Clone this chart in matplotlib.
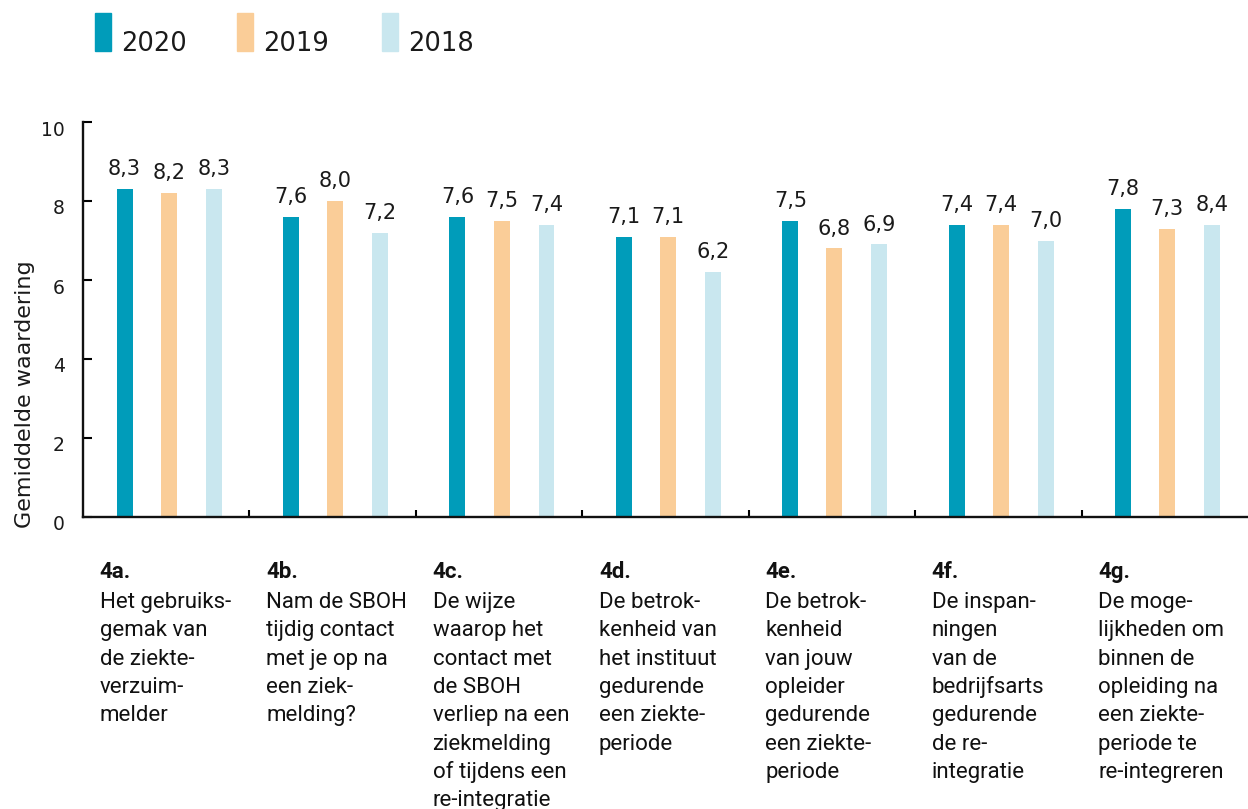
import numpy as np
import matplotlib
matplotlib.use("Agg")
from matplotlib import pyplot as plt
from matplotlib.patches import Rectangle
from matplotlib.transforms import ScaledTranslation

# data
codes = ["4a.", "4b.", "4c.", "4d.", "4e.", "4f.", "4g."]
descriptions = [
    "Het gebruiks-\ngemak van\nde ziekte-\nverzuim-\nmelder",
    "Nam de SBOH\ntijdig contact\nmet je op na\neen ziek-\nmelding?",
    "De wijze\nwaarop het\ncontact met\nde SBOH\nverliep na een\nziekmelding\nof tijdens een\nre-integratie",
    "De betrok-\nkenheid van\nhet instituut\ngedurende\neen ziekte-\nperiode",
    "De betrok-\nkenheid\nvan jouw\nopleider\ngedurende\neen ziekte-\nperiode",
    "De inspan-\nningen\nvan de\nbedrijfsarts\ngedurende\nde re-\nintegratie",
    "De moge-\nlijkheden om\nbinnen de\nopleiding na\neen ziekte-\nperiode te\nre-integreren",
]
years = ["2020", "2019", "2018"]
vals_2020 = [8.3, 7.6, 7.6, 7.1, 7.5, 7.4, 7.8]
vals_2019 = [8.2, 8.0, 7.5, 7.1, 6.8, 7.4, 7.3]
vals_2018 = [8.3, 7.2, 7.4, 6.2, 6.9, 7.0, 7.4]
# printed labels (the last 2018 label reads 8,4 in the source)
labels_2020 = ["8,3", "7,6", "7,6", "7,1", "7,5", "7,4", "7,8"]
labels_2019 = ["8,2", "8,0", "7,5", "7,1", "6,8", "7,4", "7,3"]
labels_2018 = ["8,3", "7,2", "7,4", "6,2", "6,9", "7,0", "8,4"]

colors = ["#009cba", "#facd98", "#c9e7ef"]
series = [vals_2020, vals_2019, vals_2018]
series_labels = [labels_2020, labels_2019, labels_2018]
offsets = [0.25, 0.515, 0.785]
bar_w = 0.096

fig = plt.figure(figsize=(12.48, 8.09), dpi=100)
W, H = 1248, 809
ax = fig.add_axes([83 / W, 1 - 517 / H, 1 - 83 / W, (517 - 122) / H])

x = np.arange(len(codes))
for vals, labs, off, col in zip(series, series_labels, offsets, colors):
    bars = ax.bar(x + off, vals, width=bar_w, color=col, zorder=2)
    for b, lab in zip(bars, labs):
        ax.annotate(lab, (b.get_x() + b.get_width() / 2, b.get_height()),
                    xytext=(0, 10), textcoords="offset points",
                    ha="center", va="baseline", fontsize=15, color="#1a1a1a")

ax.set_xlim(0, len(codes))
ax.set_ylim(0, 10)
ax.set_yticks([0, 2, 4, 6, 8, 10])
ax.set_xticks(np.arange(1, len(codes)))
ax.set_xticklabels([])
for s in ["top", "right"]:
    ax.spines[s].set_visible(False)
for s in ["left", "bottom"]:
    ax.spines[s].set_linewidth(1.7)
    ax.spines[s].set_color("#111111")
ax.tick_params(axis="y", direction="in", length=6.5, width=1.5, pad=13,
               labelsize=13.5, labelcolor="#1a1a1a")
ax.tick_params(axis="x", direction="in", length=5, width=1.5)
# tick labels sit a little below their ticks in the source
shift = ScaledTranslation(0, -6 / 100, fig.dpi_scale_trans)
for lab in ax.get_yticklabels():
    lab.set_transform(lab.get_transform() + shift)

# category labels below the axis
for i, (code, desc) in enumerate(zip(codes, descriptions)):
    ax.annotate(code, (i, 0), xytext=(12, -44), textcoords="offset points",
                ha="left", va="baseline", fontsize=16, fontweight="bold",
                family="Roboto", color="#111111", annotation_clip=False)
    for j, line in enumerate(desc.split("\n")):
        ax.annotate(line, (i, 0), xytext=(12, -65.5 - j * 20.4),
                    textcoords="offset points", ha="left", va="baseline",
                    fontsize=16, family="Roboto", color="#111111",
                    annotation_clip=False)

fig.text(25 / W, 1 - 394 / H, "Gemiddelde waardering", rotation=90,
         ha="center", va="center", fontsize=16, color="#1a1a1a")

# legend
leg_x = [95, 237, 382]
for lx, col, yr in zip(leg_x, colors, years):
    fig.add_artist(Rectangle((lx / W, 1 - 51 / H), 16 / W, 38 / H,
                             transform=fig.transFigure, color=col))
    fig.text((lx + 26) / W, 1 - 51 / H, yr, ha="left", va="baseline",
             fontsize=18.5, color="#1a1a1a")

fig.savefig("out.png", dpi=100)
